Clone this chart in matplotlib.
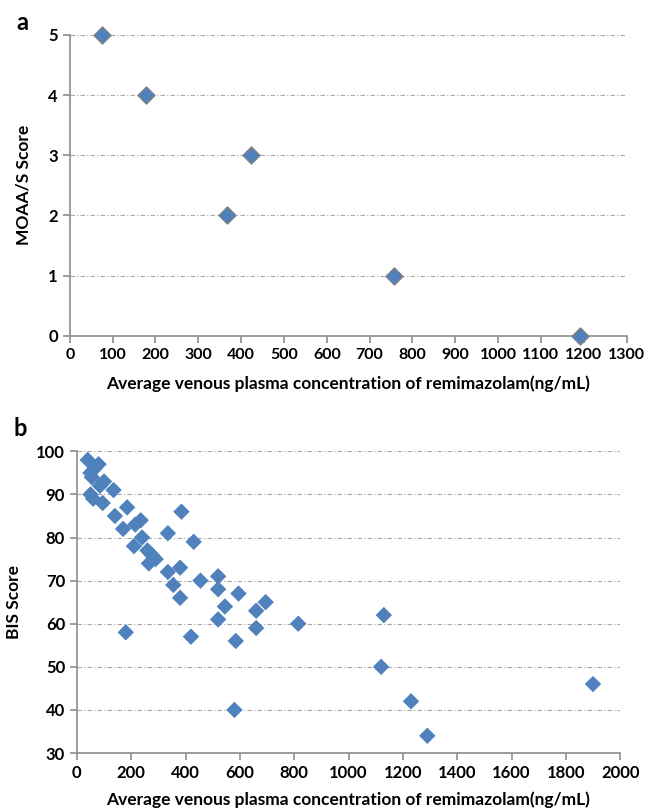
import matplotlib
matplotlib.use("Agg")
import matplotlib.pyplot as plt

plt.rcParams["font.family"] = ["Lato", "DejaVu Sans"]

# -----------------------------
# Panel a: MOAA/S score vs concentration
# -----------------------------
moaas_conc = [75, 178, 368, 423, 757, 1190]
moaas_score = [5, 4, 2, 3, 1, 0]
a_xticks = list(range(0, 1301, 100))
a_yticks = list(range(0, 6))

# -----------------------------
# Panel b: BIS score vs concentration
# -----------------------------
bis_conc = [40, 80, 65, 50, 55, 100, 85, 135, 50, 60, 95,
            185, 140, 235, 215, 170, 385, 240, 335, 430, 210,
            260, 275, 290, 265, 335, 380, 355, 455, 380, 520,
            520, 545, 595, 660, 695, 520, 660, 815, 180, 420,
            585, 580, 1130, 1120, 1230, 1290, 1900]
bis_score = [98, 97, 96, 95, 94, 93, 92, 91, 90, 89, 88,
             87, 85, 84, 83, 82, 86, 80, 81, 79, 78,
             77, 76, 75, 74, 72, 73, 69, 70, 66, 71,
             68, 64, 67, 63, 65, 61, 59, 60, 58, 57,
             56, 40, 62, 50, 42, 34, 46]
b_xticks = list(range(0, 2001, 200))
b_yticks = list(range(30, 101, 10))

x_title = "Average venous plasma concentration of remimazolam(ng/mL)"

marker_color = "#4F81BD"
axis_color = "#8C8C8C"
grid_color = "#A6A6A6"

fig = plt.figure(figsize=(6.46, 8.11), dpi=100)


def style_axes(ax, xticks, yticks, size=12):
    ax.set_xticks(xticks, [str(t) for t in xticks], fontweight="bold",
                  fontsize=size)
    ax.set_yticks(yticks, [str(t) for t in yticks], fontweight="bold",
                  fontsize=12)
    for side in ["top", "right"]:
        ax.spines[side].set_visible(False)
    for side in ["left", "bottom"]:
        ax.spines[side].set_color(axis_color)
        ax.spines[side].set_linewidth(1.2)
    ax.tick_params(axis="both", colors=axis_color, length=5, width=1.2,
                   labelcolor="black")
    ax.grid(axis="y", color=grid_color, linestyle=(0, (4, 2, 1, 2)),
            linewidth=0.8)
    ax.set_axisbelow(True)


# ---- panel a ----
ax1 = fig.add_axes([0.108, 0.586, 0.862, 0.371])
ax1.scatter(moaas_conc, moaas_score, marker="D", s=75, color=marker_color,
            edgecolors="#7F7F7F", linewidths=1.0, zorder=3, clip_on=False)
ax1.set_xlim(0, 1300)
ax1.set_ylim(0, 5)
style_axes(ax1, a_xticks, a_yticks, size=11.5)
ax1.set_xlabel(x_title, fontsize=12.5, fontweight="bold", labelpad=10)
ax1.set_ylabel("MOAA/S Score", fontsize=12.5, fontweight="bold",
               labelpad=12)
fig.text(0.034, 0.972, "a", fontsize=17, fontweight="bold",
         va="center", ha="center")

# ---- panel b ----
ax2 = fig.add_axes([0.119, 0.0715, 0.841, 0.372])
ax2.scatter(bis_conc, bis_score, marker="D", s=70, color=marker_color,
            edgecolors="none", zorder=3, clip_on=False)
ax2.set_xlim(0, 2000)
ax2.set_ylim(30, 100)
style_axes(ax2, b_xticks, b_yticks)
ax2.set_xlabel(x_title, fontsize=12.5, fontweight="bold", labelpad=8)
ax2.set_ylabel("BIS Score", fontsize=12.5, fontweight="bold",
               labelpad=10)
fig.text(0.031, 0.472, "b", fontsize=17, fontweight="bold",
         va="center", ha="center")

fig.savefig("out.png", dpi=100)
